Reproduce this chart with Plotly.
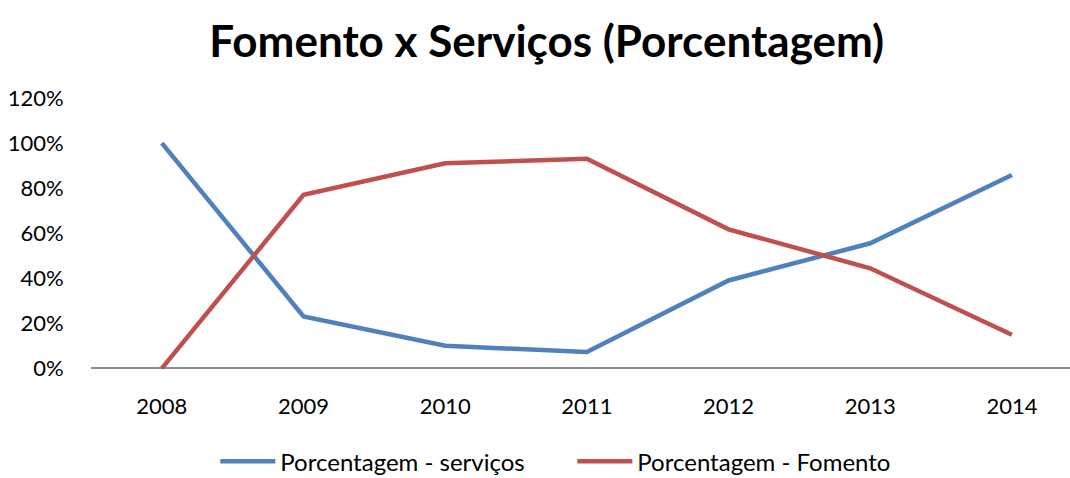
import plotly.graph_objects as go

# Years on the category axis
years = ["2008", "2009", "2010", "2011", "2012", "2013", "2014"]

# Share of each activity per year (fractions of 1)
servicos = [1.00, 0.23, 0.10, 0.072, 0.39, 0.555, 0.858]
fomento = [0.00, 0.77, 0.91, 0.93, 0.617, 0.444, 0.149]

# Y axis ticks
y_ticks = [0, 0.2, 0.4, 0.6, 0.8, 1.0, 1.2]
y_tick_text = ["0%", "20%", "40%", "60%", "80%", "100%", "120%"]

FONT = "Lato, Open Sans, sans-serif"

fig = go.Figure()
fig.add_trace(go.Scatter(
    x=list(range(len(years))), y=servicos, mode="lines",
    name="Porcentagem - serviços",
    line=dict(color="#4F81BD", width=4.5),
))
fig.add_trace(go.Scatter(
    x=list(range(len(years))), y=fomento, mode="lines",
    name="Porcentagem - Fomento",
    line=dict(color="#C0504D", width=4.5),
))

fig.update_layout(
    width=1070, height=478,
    margin=dict(l=91, r=0, t=98, b=107, autoexpand=False),
    paper_bgcolor="white", plot_bgcolor="white",
    font=dict(family=FONT, color="#000000", size=21),
    title=dict(
        text="<b>Fomento x Serviços (Porcentagem)</b>",
        x=0.511, xanchor="center", y=0.912, yanchor="middle",
        font=dict(family=FONT, size=44, color="#000000"),
    ),
    showlegend=True,
    legend=dict(
        orientation="h", x=0.127, xanchor="left", y=-0.25, yanchor="top",
        font=dict(family=FONT, size=24, color="#000000"),
        itemwidth=55, entrywidth=287, entrywidthmode="pixels",
        tracegroupgap=0,
    ),
    xaxis=dict(
        tickmode="array", tickvals=list(range(len(years))), ticktext=years,
        range=[-0.5, 6.41], showgrid=False, zeroline=False,
        showline=False, ticks="outside", ticklen=16, tickcolor="rgba(0,0,0,0)",
        tickfont=dict(family=FONT, size=22, color="#000000"),
        fixedrange=True,
    ),
    yaxis=dict(
        range=[-0.012, 1.2], tickvals=y_ticks, ticktext=y_tick_text,
        showgrid=False, showline=False,
        zeroline=True, zerolinecolor="#8C8C8C", zerolinewidth=2,
        ticks="outside", ticklen=22, tickcolor="rgba(0,0,0,0)",
        tickfont=dict(family=FONT, size=22, color="#000000"),
        fixedrange=True,
    ),
)

fig.write_html("out.html")
